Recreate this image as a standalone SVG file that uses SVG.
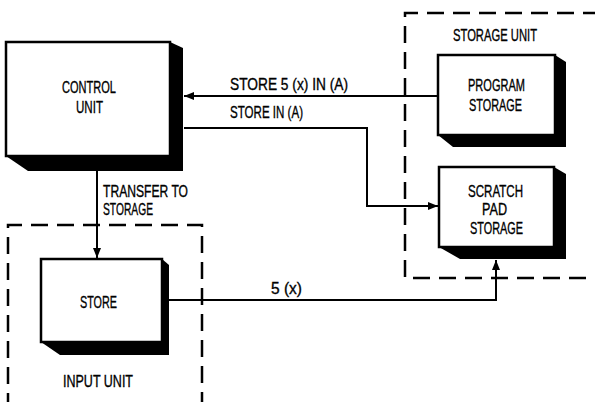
<svg xmlns="http://www.w3.org/2000/svg" width="595" height="402" viewBox="0 0 595 402">
<defs>
<marker id="ah" viewBox="0 0 10 8" refX="10" refY="4" markerWidth="10" markerHeight="8" markerUnits="userSpaceOnUse" orient="auto">
<path d="M0,0 L10,4 L0,8 Z" fill="#000"/>
</marker>
<style>
.face{fill:#fff;stroke:#000;stroke-width:2.5}
.shadow{fill:#000}
.dash{fill:none;stroke:#000;stroke-width:2.5;stroke-dasharray:17 9}
.conn{fill:none;stroke:#000;stroke-width:2}
text{font-family:"Liberation Sans",Arial,sans-serif;font-size:17px;fill:#000;stroke:#000;stroke-width:0.35}
</style>
</defs>
<rect width="595" height="402" fill="#fff"/>

<g id="storage-unit">
<path class="dash" d="M600,13 L405,13 L405,278 L600,278"/>
<text x="453" y="41" textLength="84" lengthAdjust="spacingAndGlyphs">STORAGE UNIT</text>
</g>
<g id="input-unit">
<path class="dash" d="M8,410 L8,225 L202,225 L202,410"/>
<text x="63" y="387" textLength="70" lengthAdjust="spacingAndGlyphs">INPUT UNIT</text>
</g>

<g id="control-unit">
<polygon class="shadow" points="170,42 183,48 183,171 28,171 6,156"/>
<rect class="face" x="6" y="42" width="164" height="114"/>
<text x="62" y="93" textLength="54" lengthAdjust="spacingAndGlyphs">CONTROL</text>
<text x="76" y="113" textLength="27" lengthAdjust="spacingAndGlyphs">UNIT</text>
</g>

<g id="program-storage">
<polygon class="shadow" points="555,55 566,62 566,147 453,147 438,135"/>
<rect class="face" x="438" y="55" width="117" height="80"/>
<text x="468" y="91" textLength="57" lengthAdjust="spacingAndGlyphs">PROGRAM</text>
<text x="469" y="111" textLength="53" lengthAdjust="spacingAndGlyphs">STORAGE</text>
</g>

<g id="scratch-pad-storage">
<polygon class="shadow" points="554,167 566,174 566,259 460,259 439,247"/>
<rect class="face" x="439" y="167" width="115" height="80"/>
<text x="468" y="197" textLength="55" lengthAdjust="spacingAndGlyphs">SCRATCH</text>
<text x="482" y="215" textLength="25" lengthAdjust="spacingAndGlyphs">PAD</text>
<text x="470" y="234" textLength="53" lengthAdjust="spacingAndGlyphs">STORAGE</text>
</g>

<g id="store">
<polygon class="shadow" points="162,259 169,265 169,355 60,355 41,342"/>
<rect class="face" x="41" y="259" width="121" height="83"/>
<text x="80" y="308" textLength="37" lengthAdjust="spacingAndGlyphs">STORE</text>
</g>

<g id="connectors">
<path class="conn" d="M438,96 L184,96" marker-end="url(#ah)"/>
<text x="230" y="90" textLength="118" lengthAdjust="spacingAndGlyphs">STORE 5 (x) IN (A)</text>
<path class="conn" d="M184,128 L367,128 L367,206 L438,206" marker-end="url(#ah)"/>
<text x="230" y="118" textLength="73" lengthAdjust="spacingAndGlyphs">STORE IN (A)</text>
<path class="conn" d="M97,171 L97,258" marker-end="url(#ah)"/>
<text x="103" y="197" textLength="85" lengthAdjust="spacingAndGlyphs">TRANSFER TO</text>
<text x="103" y="215" textLength="50" lengthAdjust="spacingAndGlyphs">STORAGE</text>
<path class="conn" d="M169,300 L496,300 L496,260" marker-end="url(#ah)"/>
<text x="271" y="294" textLength="31" lengthAdjust="spacingAndGlyphs">5 (x)</text>
</g>
</svg>
